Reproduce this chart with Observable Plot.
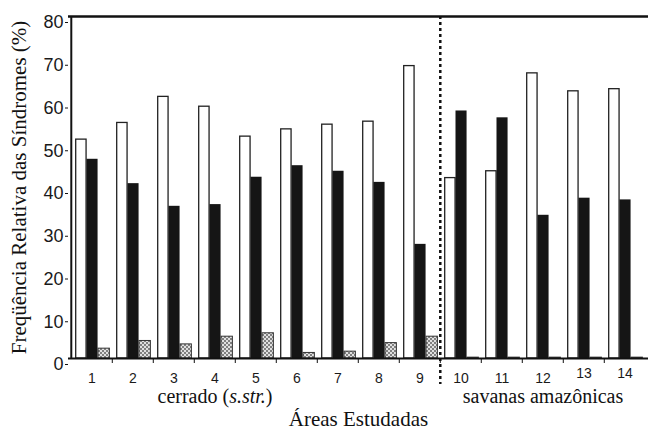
<!DOCTYPE html>
<html>
<head>
<meta charset="utf-8">
<script src="https://cdn.jsdelivr.net/npm/d3@7"></script>
<script src="https://cdn.jsdelivr.net/npm/@observablehq/plot@0.6"></script>
<style>
  html, body { margin: 0; padding: 0; background: #fff; }
</style>
</head>
<body>
<div id="chart"></div>
<script>
// ---- data ----
const areas = ["1","2","3","4","5","6","7","8","9","10","11","12","13","14"];
const zoocoria   = [51.2, 55.1, 61.2, 58.9, 51.9, 53.6, 54.7, 55.4, 68.4, 42.2, 43.8, 66.7, 62.5, 63.0];
const anemocoria = [46.6, 40.9, 35.6, 36.0, 42.4, 45.1, 43.8, 41.2, 26.7, 57.9, 56.3, 33.5, 37.5, 37.1];
const autocoria  = [2.3, 4.1, 3.3, 5.1, 5.9, 1.3, 1.6, 3.6, 5.1, 0.2, 0.2, 0.2, 0.2, 0.2];
const yTicks = [0, 10, 20, 30, 40, 50, 60, 70, 80];
const groups = [
  {label: "cerrado (s.str.)", at: "4"},
  {label: "savanas amazônicas", at: "12"}
];
const yLabel = "Freqüência Relativa das Síndromes (%)";
const xLabel = "Áreas Estudadas";
const divider = "10";

const rows = areas.map((a, i) => ({area: a, zoo: zoocoria[i], anemo: anemocoria[i], auto: autocoria[i]}));

// ---- layout ----
const W = 648, H = 430, mL = 68, mR = 0, mT = 16, mB = 72;
const bw = (W - mL - mR) / areas.length;
const serif = "Liberation Serif, Times New Roman, serif";
const sans = "Liberation Sans, Arial, sans-serif";

const svg = Plot.plot({
  width: W, height: H,
  marginLeft: mL, marginRight: mR, marginTop: mT, marginBottom: mB,
  style: {fontFamily: sans, background: "#fff", color: "#1a1a1a", overflow: "visible"},
  x: {type: "band", domain: areas, padding: 0, axis: null},
  y: {domain: [0, 80], axis: null},
  marks: [
    Plot.barY(rows, {x: "area", y: "zoo", insetLeft: 4.7, insetRight: bw - 15.5, fill: "#fff", stroke: "#222", strokeWidth: 1.3}),
    Plot.barY(rows, {x: "area", y: "anemo", insetLeft: 15.5, insetRight: bw - 27, fill: "#151515"}),
    Plot.barY(rows, {x: "area", y: "auto", insetLeft: 27, insetRight: bw - 38.8, fill: "url(#hatch)", stroke: "#333", strokeWidth: 1}),
    Plot.ruleY([0], {stroke: "#111", strokeWidth: 2}),
    Plot.ruleY([80], {stroke: "#111", strokeWidth: 2.5}),
    Plot.ruleX([areas[0]], {x: d => d, dx: -bw / 2, stroke: "#111", strokeWidth: 2}),
    Plot.ruleX([divider], {x: d => d, dx: -bw / 2, insetBottom: -26, stroke: "#111", strokeWidth: 2.5, strokeDasharray: "3,3"}),
    Plot.axisY(yTicks, {tickSize: 3, tickPadding: 2, fontSize: 18, dy: 6, label: null, stroke: "#111"}),
    Plot.axisX(areas.slice(1), {tickSize: 5, tickFormat: () => "", dx: -bw / 2, label: null, stroke: "#111"}),
    Plot.axisX(areas.slice(0, 12), {tickSize: 0, tickPadding: 15, fontSize: 14, label: null}),
    Plot.axisX(areas.slice(12), {tickSize: 0, tickPadding: 10, fontSize: 14, label: null}),
    Plot.text(groups, {x: "at", text: "label", frameAnchor: "bottom", lineAnchor: "middle", textAnchor: "middle", dy: 38, fontSize: 20, fontFamily: serif, fill: "#111"}),
    Plot.text([xLabel], {frameAnchor: "bottom", lineAnchor: "middle", textAnchor: "middle", dy: 60.5, fontSize: 21, fontFamily: serif, fill: "#111"}),
    Plot.text([yLabel], {frameAnchor: "left", lineAnchor: "middle", textAnchor: "middle", rotate: -90, dx: -49, fontSize: 21, fontFamily: serif, fill: "#111"})
  ]
});

// hatch pattern
const defs = d3.select(svg).insert("defs", ":first-child");
const pat = defs.append("pattern").attr("id", "hatch").attr("patternUnits", "userSpaceOnUse")
  .attr("width", 4).attr("height", 4);
pat.append("rect").attr("width", 4).attr("height", 4).attr("fill", "#e0e0e0");
pat.append("rect").attr("width", 2).attr("height", 2).attr("fill", "#808080");
pat.append("rect").attr("x", 2).attr("y", 2).attr("width", 2).attr("height", 2).attr("fill", "#808080");

// italic s.str.
d3.select(svg).selectAll("text").each(function() {
  const t = this.textContent;
  if (t === "cerrado (s.str.)") {
    const el = d3.select(this);
    el.text(null);
    el.append("tspan").text("cerrado (");
    el.append("tspan").attr("font-style", "italic").text("s.str.");
    el.append("tspan").text(")");
  }
});

document.getElementById("chart").appendChild(svg);
</script>
</body>
</html>
